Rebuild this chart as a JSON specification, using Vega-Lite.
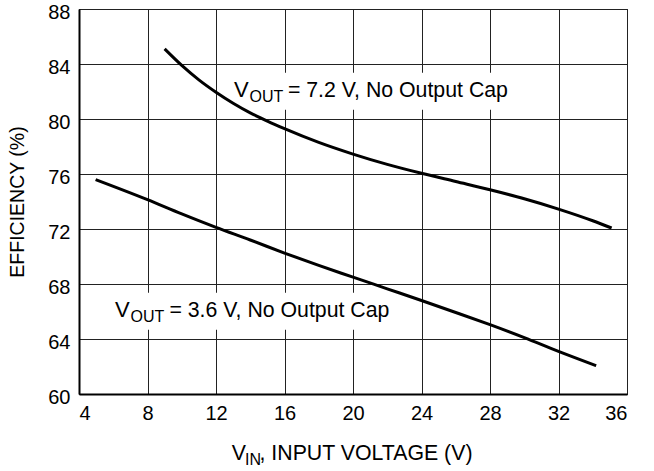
{
  "$schema": "https://vega.github.io/schema/vega-lite/v6.json",
  "width": 548,
  "height": 385,
  "autosize": {"type": "none"},
  "padding": {"left": 79, "top": 9, "right": 27, "bottom": 77},
  "background": "white",
  "config": {
    "font": "Liberation Sans",
    "view": {"stroke": "black", "strokeWidth": 1},
    "axis": {
      "domain": true,
      "domainColor": "black",
      "domainWidth": 2,
      "ticks": false,
      "grid": true,
      "gridColor": "#222222",
      "gridWidth": 1,
      "gridOpacity": 1,
      "labelFontSize": 20,
      "labelColor": "black",
      "labelFont": "Liberation Sans",
      "titleFont": "Liberation Sans",
      "titleFontSize": 19.5,
      "titleFontWeight": "normal",
      "titleColor": "black"
    }
  },
  "datasets": {
    "boxes": [
      {"x1": 12.7, "x2": 29.4, "y1": 80.68, "y2": 83.37},
      {"x1": 5.8, "x2": 22.3, "y1": 64.68, "y2": 67.37}
    ],
    "curves": [
      {"series": "7.2 V", "vin": 9.0, "eff": 85.1},
      {"series": "7.2 V", "vin": 10, "eff": 83.9},
      {"series": "7.2 V", "vin": 11, "eff": 82.85},
      {"series": "7.2 V", "vin": 12, "eff": 81.95},
      {"series": "7.2 V", "vin": 13, "eff": 81.15},
      {"series": "7.2 V", "vin": 14, "eff": 80.45},
      {"series": "7.2 V", "vin": 15, "eff": 79.85},
      {"series": "7.2 V", "vin": 16, "eff": 79.3},
      {"series": "7.2 V", "vin": 18, "eff": 78.3},
      {"series": "7.2 V", "vin": 20, "eff": 77.45},
      {"series": "7.2 V", "vin": 22, "eff": 76.7},
      {"series": "7.2 V", "vin": 24, "eff": 76.05},
      {"series": "7.2 V", "vin": 26, "eff": 75.45},
      {"series": "7.2 V", "vin": 28, "eff": 74.85},
      {"series": "7.2 V", "vin": 30, "eff": 74.2},
      {"series": "7.2 V", "vin": 32, "eff": 73.45},
      {"series": "7.2 V", "vin": 34, "eff": 72.6},
      {"series": "7.2 V", "vin": 35.1, "eff": 72.07},
      {"series": "3.6 V", "vin": 4.97, "eff": 75.59},
      {"series": "3.6 V", "vin": 8, "eff": 74.13},
      {"series": "3.6 V", "vin": 10, "eff": 73.1},
      {"series": "3.6 V", "vin": 12, "eff": 72.12},
      {"series": "3.6 V", "vin": 14, "eff": 71.2},
      {"series": "3.6 V", "vin": 16, "eff": 70.25},
      {"series": "3.6 V", "vin": 18, "eff": 69.35},
      {"series": "3.6 V", "vin": 20, "eff": 68.5},
      {"series": "3.6 V", "vin": 22, "eff": 67.65},
      {"series": "3.6 V", "vin": 24, "eff": 66.8},
      {"series": "3.6 V", "vin": 26, "eff": 65.93},
      {"series": "3.6 V", "vin": 28, "eff": 65.04},
      {"series": "3.6 V", "vin": 30, "eff": 64.1},
      {"series": "3.6 V", "vin": 32, "eff": 63.1},
      {"series": "3.6 V", "vin": 34.2, "eff": 62.06}
    ],
    "labels": [
      {"part": "main", "x": 13.05, "y": 81.6, "text": "V"},
      {"part": "sub", "x": 13.96, "y": 81.27, "text": "OUT"},
      {"part": "rest", "x": 16.2, "y": 81.6, "text": "= 7.2 V, No Output Cap"},
      {"part": "main", "x": 6.1, "y": 65.58, "text": "V"},
      {"part": "sub", "x": 7.01, "y": 65.24, "text": "OUT"},
      {"part": "rest", "x": 9.28, "y": 65.58, "text": "= 3.6 V, No Output Cap"},
      {"part": "rest", "x": 12.92, "y": 55.22, "text": "V"},
      {"part": "sub", "x": 13.7, "y": 54.86, "text": "IN"},
      {"part": "rest", "x": 14.54, "y": 55.22, "text": ", INPUT VOLTAGE (V)"}
    ]
  },
  "layer": [
    {
      "data": {"name": "boxes"},
      "mark": {"type": "rect", "fill": "white", "stroke": null},
      "encoding": {
        "x": {"field": "x1", "type": "quantitative",
          "scale": {"domain": [4, 36], "nice": false, "zero": false},
          "axis": {"values": [4, 8, 12, 16, 20, 24, 28, 32, 36], "title": null, "labelPadding": 9}},
        "x2": {"field": "x2"},
        "y": {"field": "y1", "type": "quantitative",
          "scale": {"domain": [60, 88], "nice": false, "zero": false},
          "axis": {"values": [60, 64, 68, 72, 76, 80, 84, 88], "title": "EFFICIENCY (%)", "labelPadding": 9, "labelOffset": 3, "titlePadding": 20}},
        "y2": {"field": "y2"}
      }
    },
    {
      "data": {"name": "curves"},
      "mark": {"type": "line", "color": "black", "strokeWidth": 3, "interpolate": "monotone", "strokeCap": "butt"},
      "encoding": {
        "x": {"field": "vin", "type": "quantitative"},
        "y": {"field": "eff", "type": "quantitative"},
        "detail": {"field": "series"}
      }
    },
    {
      "data": {"name": "labels"},
      "transform": [{"filter": "datum.part === 'main'"}],
      "mark": {"type": "text", "align": "left", "baseline": "alphabetic", "fontSize": 22, "color": "black"},
      "encoding": {
        "x": {"field": "x", "type": "quantitative"},
        "y": {"field": "y", "type": "quantitative"},
        "text": {"field": "text"}
      }
    },
    {
      "data": {"name": "labels"},
      "transform": [{"filter": "datum.part === 'sub'"}],
      "mark": {"type": "text", "align": "left", "baseline": "alphabetic", "fontSize": 16, "color": "black"},
      "encoding": {
        "x": {"field": "x", "type": "quantitative"},
        "y": {"field": "y", "type": "quantitative"},
        "text": {"field": "text"}
      }
    },
    {
      "data": {"name": "labels"},
      "transform": [{"filter": "datum.part === 'rest'"}],
      "mark": {"type": "text", "align": "left", "baseline": "alphabetic", "fontSize": 21.3, "color": "black"},
      "encoding": {
        "x": {"field": "x", "type": "quantitative"},
        "y": {"field": "y", "type": "quantitative"},
        "text": {"field": "text"}
      }
    }
  ]
}
